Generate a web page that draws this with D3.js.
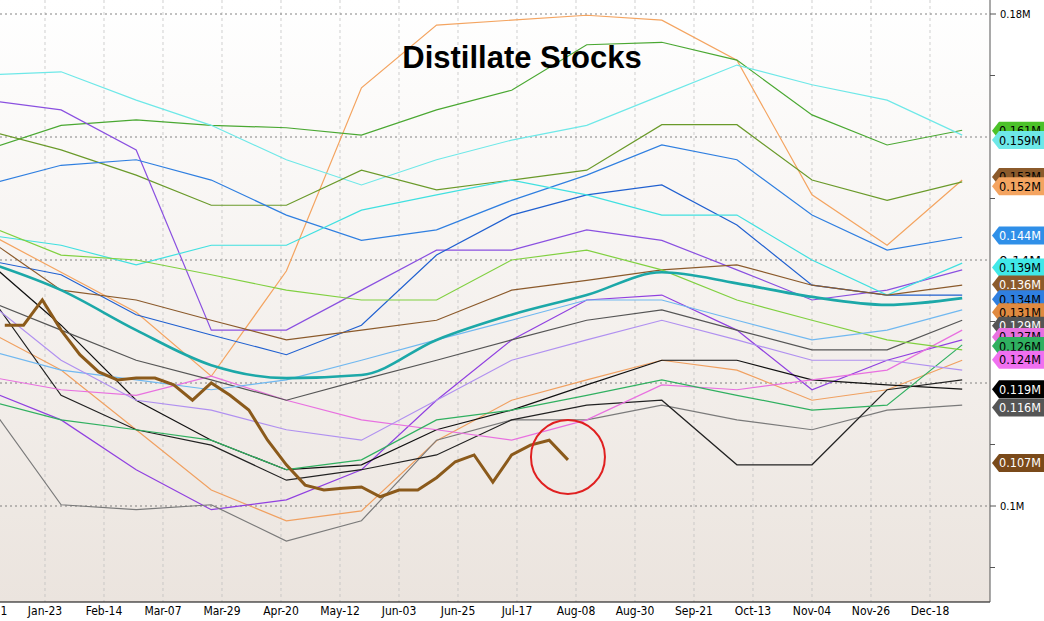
<!DOCTYPE html>
<html>
<head>
<meta charset="utf-8">
<script src="https://cdn.jsdelivr.net/npm/d3@7"></script>
<style>
  body { margin: 0; background: #fff; }
  svg { display: block; font-family: "DejaVu Sans Condensed", "DejaVu Sans", sans-serif; }
</style>
</head>
<body>
<svg id="chart" width="1044" height="621"></svg>
<script>
// sample weeks for the thin series (week index from Jan 1)
const sampleWeeks = [0, 4, 8, 12, 16, 20, 24, 28, 32, 36, 40, 44, 48, 52];

// values in millions of barrels
const thinSeries = [
  { color: "#f4a460", v: [0.1445, 0.138, 0.1315, 0.1211, 0.1382, 0.168, 0.1782, 0.179, 0.1798, 0.179, 0.1725, 0.1506, 0.1424, 0.153] },
  { color: "#f0a060", v: [0.1286, 0.1221, 0.1124, 0.1026, 0.0976, 0.0992, 0.1106, 0.1172, 0.1205, 0.1237, 0.1221, 0.1172, 0.1189, 0.1237] },
  { color: "#4aa832", v: [0.1579, 0.1619, 0.1628, 0.1619, 0.1615, 0.1603, 0.1644, 0.1676, 0.175, 0.1754, 0.1725, 0.1636, 0.1587, 0.1611] },
  { color: "#6ee8e8", v: [0.1701, 0.1706, 0.1660, 0.1619, 0.1563, 0.1522, 0.1563, 0.1595, 0.1619, 0.1668, 0.1717, 0.1685, 0.166, 0.1603] },
  { color: "#6a9a2a", v: [0.1611, 0.1579, 0.1538, 0.1489, 0.1489, 0.1546, 0.1514, 0.153, 0.1546, 0.162, 0.162, 0.153, 0.1497, 0.1527] },
  { color: "#8a50e0", v: [0.1660, 0.1644, 0.1579, 0.1286, 0.1286, 0.1351, 0.1416, 0.1416, 0.1449, 0.1432, 0.1384, 0.1335, 0.1351, 0.1384] },
  { color: "#2f7fe0", v: [0.1522, 0.1554, 0.1563, 0.1530, 0.1473, 0.1432, 0.1449, 0.1497, 0.1538, 0.1587, 0.1563, 0.1473, 0.1416, 0.1437] },
  { color: "#2060d0", v: [0.1400, 0.1376, 0.1311, 0.1278, 0.1246, 0.1294, 0.1408, 0.1473, 0.1506, 0.1522, 0.1457, 0.1359, 0.1343, 0.1343] },
  { color: "#40e0e0", v: [0.1441, 0.1424, 0.1392, 0.1424, 0.1424, 0.1481, 0.1506, 0.1530, 0.1506, 0.1473, 0.1473, 0.1400, 0.1343, 0.1395] },
  { color: "#9040e0", v: [0.1189, 0.1140, 0.1059, 0.0994, 0.1010, 0.1059, 0.1172, 0.1270, 0.1335, 0.1343, 0.1286, 0.1189, 0.1237, 0.1270] },
  { color: "#7a7a7a", v: [0.1172, 0.1002, 0.0994, 0.1002, 0.0943, 0.0976, 0.1107, 0.1140, 0.1140, 0.1164, 0.1140, 0.1124, 0.1156, 0.1164] },
  { color: "#111111", v: [0.1400, 0.1294, 0.1172, 0.1107, 0.1059, 0.1067, 0.1124, 0.1156, 0.1197, 0.1237, 0.1237, 0.1205, 0.1197, 0.1190] },
  { color: "#222222", v: [0.1351, 0.1180, 0.1124, 0.1099, 0.1042, 0.1059, 0.1083, 0.1140, 0.1164, 0.1172, 0.1067, 0.1067, 0.1189, 0.1205] },
  { color: "#e870e0", v: [0.1211, 0.1189, 0.1180, 0.1211, 0.1172, 0.1140, 0.1124, 0.1107, 0.1140, 0.1197, 0.1189, 0.1205, 0.1221, 0.1286] },
  { color: "#30b060", v: [0.1172, 0.1140, 0.1124, 0.1107, 0.1059, 0.1075, 0.1140, 0.1156, 0.1180, 0.1205, 0.1180, 0.1156, 0.1164, 0.1262] },
  { color: "#8b5a2b", v: [0.1436, 0.1351, 0.1335, 0.1302, 0.1270, 0.1286, 0.1302, 0.1351, 0.1367, 0.1384, 0.1392, 0.1359, 0.1343, 0.1359] },
  { color: "#555555", v: [0.1335, 0.1286, 0.1237, 0.1205, 0.1172, 0.1205, 0.1237, 0.1270, 0.1302, 0.1319, 0.1286, 0.1254, 0.1254, 0.1302] },
  { color: "#80d040", v: [0.1457, 0.1408, 0.1400, 0.1376, 0.1351, 0.1335, 0.1335, 0.1400, 0.1416, 0.1384, 0.1335, 0.1302, 0.1270, 0.1254] },
  { color: "#70b8f0", v: [0.1254, 0.1221, 0.1205, 0.1189, 0.1205, 0.1237, 0.1270, 0.1302, 0.1335, 0.1335, 0.1302, 0.1270, 0.1286, 0.1319] },
  { color: "#b090f0", v: [0.1335, 0.1237, 0.1172, 0.1156, 0.1124, 0.1107, 0.1172, 0.1237, 0.1270, 0.1302, 0.1270, 0.1237, 0.1237, 0.1221] }
];

// five-year style average (thick teal)
const avgValues = [0.1397, 0.1351, 0.1286, 0.1229, 0.1208, 0.1213, 0.1270, 0.1311, 0.1343, 0.1380, 0.1362, 0.1340, 0.1327, 0.1338];

// current year, weekly from week 1 (thick brown)
const currentValues = [0.1294, 0.1294, 0.1335, 0.1286, 0.1246, 0.1218, 0.1205, 0.1208, 0.1208, 0.1197, 0.1172, 0.1200,
  0.1180, 0.1156, 0.1107, 0.1067, 0.1034, 0.1026, 0.1029, 0.1031, 0.1015, 0.1026, 0.1026, 0.1046, 0.1072, 0.1083,
  0.1039, 0.1083, 0.1099, 0.1107, 0.1075];

// right-hand last-value labels
const endLabels = [
  { text: "0.161M", value: 0.161, fill: "#4cc22a", ink: "#000" },
  { text: "0.159M", value: 0.1595, fill: "#6ee8e8", ink: "#000" },
  { text: "0.153M", value: 0.1535, fill: "#8b5a2b", ink: "#000" },
  { text: "0.152M", value: 0.152, fill: "#f4a460", ink: "#000" },
  { text: "0.144M", value: 0.144, fill: "#2f8fe8", ink: "#fff" },
  { text: "0.14M", value: 0.14, fill: "#ffffff", ink: "#000" },
  { text: "0.139M", value: 0.1388, fill: "#40e8e8", ink: "#000" },
  { text: "0.136M", value: 0.136, fill: "#8b5a2b", ink: "#fff" },
  { text: "0.134M", value: 0.1336, fill: "#2f7fe0", ink: "#000" },
  { text: "0.131M", value: 0.1315, fill: "#e08a40", ink: "#000" },
  { text: "0.129M", value: 0.1293, fill: "#555555", ink: "#fff" },
  { text: "0.127M", value: 0.1275, fill: "#e870e0", ink: "#000" },
  { text: "0.126M", value: 0.126, fill: "#30b060", ink: "#000" },
  { text: "0.124M", value: 0.1238, fill: "#f070f0", ink: "#000" },
  { text: "0.119M", value: 0.119, fill: "#000000", ink: "#fff" },
  { text: "0.116M", value: 0.116, fill: "#555555", ink: "#fff" },
  { text: "0.107M", value: 0.107, fill: "#7a4a1a", ink: "#fff" }
];

const yTicks = [0.18, 0.1];
const yGrid = [0.18, 0.16, 0.14, 0.12, 0.1];
const yMinor = [0.17, 0.15, 0.13, 0.11, 0.09];
const xTickLabels = ["1", "Jan-23", "Feb-14", "Mar-07", "Mar-29", "Apr-20", "May-12", "Jun-03", "Jun-25",
  "Jul-17", "Aug-08", "Aug-30", "Sep-21", "Oct-13", "Nov-04", "Nov-26", "Dec-18"];

const svg = d3.select("#chart");
const W = 1044, plotRight = 990, plotBottom = 602;

const defs = svg.append("defs");
const grad = defs.append("linearGradient").attr("id", "bg").attr("x1", 0).attr("x2", 0).attr("y1", 0).attr("y2", 1);
grad.append("stop").attr("offset", "0%").attr("stop-color", "#ffffff");
grad.append("stop").attr("offset", "100%").attr("stop-color", "#ebe4de");
svg.append("rect").attr("width", plotRight).attr("height", plotBottom).attr("fill", "url(#bg)");

// x: day of year
const x = d3.scaleLinear().domain([0, 22]).range([-14, 45]);
const y = d3.scaleLinear().domain([0.1, 0.18]).range([506, 14]);

xTickLabels.forEach((t, i) => {
  const px = x(i * 22);
  if (i > 0) {
    svg.append("line").attr("x1", px).attr("x2", px).attr("y1", 0).attr("y2", plotBottom)
      .attr("stroke", "#bbb").attr("stroke-dasharray", "3,3").attr("stroke-width", 0.7);
  }
  svg.append("text").attr("x", i === 0 ? 4 : px).attr("y", 615).attr("text-anchor", "middle")
    .attr("font-size", 12).attr("fill", "#000").text(t);
});

yGrid.forEach((v) => {
  svg.append("line").attr("x1", 0).attr("x2", plotRight).attr("y1", y(v)).attr("y2", y(v))
    .attr("stroke", "#666").attr("stroke-dasharray", "2,3").attr("stroke-width", 0.8);
});

svg.append("line").attr("x1", 0).attr("x2", plotRight).attr("y1", plotBottom).attr("y2", plotBottom).attr("stroke", "#000");
svg.append("line").attr("x1", plotRight).attr("x2", plotRight).attr("y1", 0).attr("y2", plotBottom).attr("stroke", "#555");

yTicks.forEach((v) => {
  svg.append("line").attr("x1", plotRight).attr("x2", plotRight + 6).attr("y1", y(v)).attr("y2", y(v)).attr("stroke", "#555");
  svg.append("text").attr("x", plotRight + 10).attr("y", y(v) + 4).attr("font-size", 11).text(v + "M");
});
yMinor.forEach((v) => {
  svg.append("line").attr("x1", plotRight).attr("x2", plotRight + 5).attr("y1", y(v)).attr("y2", y(v)).attr("stroke", "#555");
});

const line = d3.line().x((d) => x(d[0])).y((d) => y(d[1]));
const plot = svg.append("g");

thinSeries.forEach((s) => {
  plot.append("path").datum(s.v.map((v, i) => [sampleWeeks[i] * 7, v]))
    .attr("d", line).attr("fill", "none").attr("stroke", s.color).attr("stroke-width", 1.2);
});

plot.append("path").datum(avgValues.map((v, i) => [sampleWeeks[i] * 7, v]))
  .attr("d", line.curve(d3.curveMonotoneX)).attr("fill", "none").attr("stroke", "#1ca8a8").attr("stroke-width", 2.6);
line.curve(d3.curveLinear);

plot.append("path").datum(currentValues.map((v, i) => [(i + 1) * 7, v]))
  .attr("d", line).attr("fill", "none").attr("stroke", "#8b5a1b").attr("stroke-width", 3);

// red circle around latest point
const lastDay = currentValues.length * 7;
svg.append("circle").attr("cx", x(lastDay)).attr("cy", y(currentValues[currentValues.length - 1]) - 3)
  .attr("r", 37).attr("fill", "none").attr("stroke", "#e02020").attr("stroke-width", 2);

svg.append("text").attr("x", 522).attr("y", 68).attr("text-anchor", "middle")
  .attr("font-family", "Liberation Sans, Arial, sans-serif").attr("font-weight", "bold").attr("font-size", 31)
  .text("Distillate Stocks");

// end labels
endLabels.forEach((l) => {
  const cy = y(l.value);
  const g = svg.append("g");
  g.append("path")
    .attr("d", `M${plotRight + 2},${cy} L${plotRight + 9},${cy - 9} L${W},${cy - 9} L${W},${cy + 9} L${plotRight + 9},${cy + 9} Z`)
    .attr("fill", l.fill);
  g.append("text").attr("x", plotRight + 9).attr("y", cy + 4.5).attr("font-size", 12)
    .attr("textLength", 42).attr("lengthAdjust", "spacingAndGlyphs").attr("fill", l.ink).text(l.text);
});
</script>
</body>
</html>
